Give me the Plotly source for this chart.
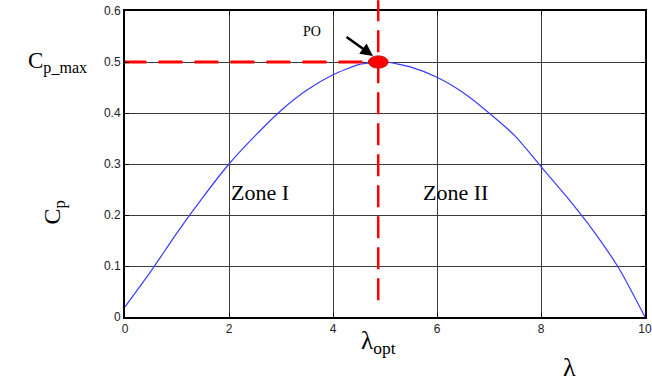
import plotly.graph_objects as go

# Power coefficient curve Cp(lambda)
tsr = [0, 0.5, 1, 1.5, 2, 2.5, 3, 3.5, 4, 4.5, 5, 5.5, 6, 6.5, 7, 7.5, 8, 8.5, 9, 9.5, 10]
cp = [0.02, 0.09, 0.165, 0.235, 0.30, 0.355, 0.405, 0.445, 0.475, 0.495, 0.50,
      0.49, 0.47, 0.44, 0.40, 0.355, 0.295, 0.235, 0.17, 0.095, 0.0]

lambda_opt = 4.87
cp_max = 0.5

x_ticks = [0, 2, 4, 6, 8, 10]
y_ticks = [0, 0.1, 0.2, 0.3, 0.4, 0.5, 0.6]

serif = "Liberation Serif, Times New Roman, serif"
sans = "Liberation Sans, Arial, sans-serif"

fig = go.Figure()

fig.add_trace(go.Scatter(x=tsr, y=cp, mode="lines",
                         line=dict(color="#3a3aff", width=1.2, shape="spline", smoothing=0.6),
                         showlegend=False, hoverinfo="skip"))

# dashed guide lines through the optimum
fig.add_trace(go.Scatter(x=[-0.05, lambda_opt], y=[cp_max, cp_max], mode="lines",
                         line=dict(color="#ff0000", width=3, dash="24px,12px"),
                         showlegend=False, hoverinfo="skip", cliponaxis=False))
fig.add_shape(type="line", xref="x", yref="paper", x0=lambda_opt, x1=lambda_opt,
              y0=0.055, y1=1.035, line=dict(color="#ff0000", width=2.5, dash="22px,9px"))

# optimum operating point
fig.add_shape(type="circle", xref="x", yref="y",
              x0=lambda_opt - 0.19, x1=lambda_opt + 0.19,
              y0=cp_max - 0.012, y1=cp_max + 0.012,
              fillcolor="#ff0000", line=dict(color="#cc0000", width=1))

fig.add_annotation(x=lambda_opt - 0.1, y=cp_max + 0.012, ax=-28, ay=-20,
                   showarrow=True, arrowhead=2, arrowsize=1, arrowwidth=2.5,
                   arrowcolor="black", text="")
fig.add_annotation(x=3.6, y=0.56, text="PO", showarrow=False,
                   font=dict(family=serif, size=14, color="black"))

fig.add_annotation(x=2.6, y=0.245, text="Zone I", showarrow=False,
                   font=dict(family=serif, size=22, color="black"))
fig.add_annotation(x=6.35, y=0.245, text="Zone II", showarrow=False,
                   font=dict(family=serif, size=22, color="black"))

fig.add_annotation(xref="paper", yref="y", x=-0.07, y=cp_max, xanchor="right",
                   text="C<sub>p_max</sub>", showarrow=False,
                   font=dict(family=serif, size=23, color="black"))
fig.add_annotation(xref="paper", yref="paper", x=-0.17, y=0.34, textangle=-90,
                   text="C<sub>p</sub>", showarrow=False,
                   font=dict(family=serif, size=24, color="black"))
fig.add_annotation(xref="x", yref="paper", x=lambda_opt, y=-0.025, yanchor="top",
                   text="λ<sub>opt</sub>", showarrow=False,
                   font=dict(family=serif, size=25, color="black"))
fig.add_annotation(xref="x", yref="paper", x=8.55, y=-0.165, yanchor="middle",
                   text="λ", showarrow=False,
                   font=dict(family=serif, size=26, color="black"))

axis_common = dict(showgrid=True, gridcolor="#3c3c3c", gridwidth=1.3,
                   zeroline=False, showline=True, linecolor="black", linewidth=2,
                   mirror="ticks", ticks="inside", ticklen=4, tickcolor="black",
                   automargin=False,
                   tickfont=dict(family=sans, size=12, color="#222222"))

fig.update_xaxes(range=[0, 10], tickvals=x_ticks, ticktext=[str(v) for v in x_ticks], **axis_common)
fig.update_yaxes(range=[0, 0.6], tickvals=y_ticks,
                 ticktext=["0", "0.1", "0.2", "0.3", "0.4", "0.5", "0.6"], **axis_common)

fig.update_layout(width=652, height=383,
                  margin=dict(l=125, r=7, t=11, b=66),
                  plot_bgcolor="white", paper_bgcolor="white")

fig.write_html("out.html")
